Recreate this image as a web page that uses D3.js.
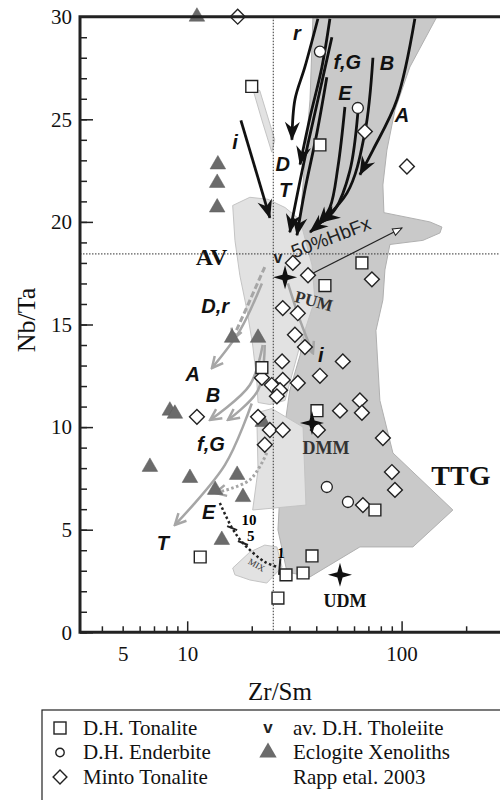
<!DOCTYPE html>
<html>
<head>
<meta charset="utf-8">
<script src="https://cdn.jsdelivr.net/npm/d3@7"></script>
<style>
body { margin: 0; background: #fff; }
svg text { font-family: "Liberation Serif", "Times New Roman", serif; }
svg text.lab { font-family: "Liberation Sans", Arial, sans-serif; font-weight: bold; font-style: italic; font-size: 20px; }
svg text.sans { font-family: "Liberation Sans", Arial, sans-serif; }
</style>
</head>
<body>
<div id="chart"></div>
<script>
// ---- data (Zr/Sm, Nb/Ta) ----
var tonalite = [[20.0,26.6],[41.6,23.75],[65.3,18.0],[43.9,16.9],[22.3,12.9],[40.3,10.8],[75.1,5.96],
    [38.2,3.72],[34.7,2.89],[28.9,2.8],[26.5,1.67],[11.5,3.67]];
var enderbite = [[41.6,28.3],[62.5,25.55],[44.8,7.08],[56.2,6.35]];
var minto = [[17.2,30],[67.4,24.4],[105.9,22.7],[31.1,18.0],[36.6,17.4],[72.7,17.2],[27.9,15.8],[32.8,15.55],
    [31.8,14.5],[35.4,13.9],[53.2,13.2],[41.6,12.5],[27.7,13.2],[22.3,12.4],[27.9,12.3],[24.8,12.05],
    [27.1,11.8],[26.2,11.5],[32.8,12.15],[63.9,11.3],[65.3,10.7],[51.6,10.8],[21.4,10.5],[24.3,9.86],
    [27.9,9.86],[40.7,9.86],[23.0,9.14],[81.8,9.47],[90.1,7.81],[93.1,6.94],[66.0,6.2],[11.1,10.5]];
var eclogite = [[11.1,30],[13.9,22.8],[13.8,21.9],[13.8,20.7],[8.3,10.8],[8.76,10.65],[6.7,8.06],[10.3,7.52],
    [17.1,7.67],[13.5,6.94],[18.2,6.59],[14.5,4.5],[16.2,14.35],[21.4,14.35],[22.5,10.25]];
var tholeiite = [[26.5,18.25]];
var reservoirs = [["PUM",28.6,17.3],["DMM",38.2,10.2],["UDM",51.6,2.8]];
var refX = 25.2, refY = 18.44;

var ttgField = [[38.6,30],[146.1,30],[109.3,27.55],[93.1,25.45],[85.4,23.5],[81.8,21.8],[82.7,20.45],
    [135.5,20.0],[154.2,19.75],[150.9,19.46],[125.7,19.1],[88.2,18.9],[83.6,17.66],[81.8,16.2],[75.9,14.7],
    [79.2,11.3],[91.1,8.74],[173.5,5.96],[112.9,4.16],[63.9,4.16],[37.4,2.7],[29.2,2.94],[26.5,4.99],
    [27.9,9.37],[30.1,11.8],[33.6,13.5],[35.4,14.7],[38.2,16.45],[35.4,18.6],[33.6,20.0],[35.4,23.0],[37.4,25.95]];
var avField = [[16.3,20.8],[19.6,21.2],[23.8,21.1],[28.6,20.7],[33.6,20.1],[38.2,17.9],[39.4,16.2],[33.6,14.0],
    [28.6,11.3],[24.3,11.1],[21.4,11.2],[21.1,12.3],[20.2,14.0],[19.0,15.7],[17.6,17.4],[16.7,19.1]];
var lowField = [[21.1,10.7],[24.8,10.9],[34.7,10.0],[35.8,6.2],[20.2,5.96],[21.4,7.91]];
var mixField = [[16.3,3.13],[19.6,3.91],[23.0,4.25],[26.2,4.16],[27.7,3.18],[23.5,2.4],[19.6,2.55],[16.7,2.8]];
var sliver = [[20.2,26.5],[21.8,26.4],[25.6,24.0],[24.8,23.4],[22.3,24.96]];

var blackArrows = [
    [[40.7,29.9],[35.4,27.55],[31.8,25.95],[30.8,24.0]],
    [[46.3,29.9],[42.5,27.55],[37.4,25.1],[33.6,22.8]],
    [[47.3,29.0],[40.7,25.95],[34.7,22.7],[30.1,19.5]],
    [[44.8,27.05],[40.3,24.35],[35.4,21.55],[32.5,19.35]],
    [[54.4,25.6],[50.5,22.7],[46.3,20.7],[40.7,19.85]],
    [[73.5,28.0],[67.4,24.35],[55.6,21.4],[37.4,19.5]],
    [[62.5,25.3],[57.4,22.5],[48.9,20.6],[42.5,20.0]],
    [[115.3,29.9],[95.1,25.95],[73.5,23.5],[63.9,22.3]],
    [[17.8,24.95],[24.3,20.2]]
];
var grayArrows = [
    [[22.3,17.0],[17.6,14.7],[13.04,12.88]],
    [[22.5,14.0],[19.6,12.05],[12.8,10.35]],
    [[23.0,14.0],[21.4,11.8],[15.5,10.35]],
    [[20.0,11.15],[15.0,8.16],[8.76,5.23]],
    [[29.5,17.0],[33.6,15.2],[38.6,13.6]]
];
var grayDashed = [[23.0,17.8],[19.2,15.96],[16.2,14.25]];
var grayDotted = [[23.5,8.74],[19.6,7.43],[13.5,6.79]];
var mixCurve = [[14.2,6.3],[16.2,5.08],[18.2,4.35],[23.0,3.43],[26.5,3.18]];
var mixTicks = [[16.2,5.08],[18.2,4.35]];
var hbfx = [[35.4,17.3],[100.3,19.7]];

var blackLabels = [["r",32.5,29.2],["f,G",55.8,27.8],["B",85.4,27.75],["E",54.4,26.3],["A",100.3,25.2],
    ["D",27.9,22.8],["T",28.6,21.55],["i",16.7,23.9]];
var grayLabels = [["D,r",13.5,15.9],["A",10.6,12.6],["B",13.2,11.55],["f,G",12.9,9.2],["E",12.6,5.86],
    ["T",7.7,4.37],["i",42.0,13.5]];
var mixLabels = [["10",19.4,5.5],["5",19.8,4.72],["1",27.4,3.87]];

var xMinor = [4,5,6,7,8,9,20,30,40,50,60,70,80,90,200];
var xMajor = [10,100];
var xLabels = [5,10,100];
var yMinor = d3.range(0, 31);
var yMajor = [0,5,10,15,20,25,30];

// ---- scales ----
var x = d3.scaleLog().domain([Math.sqrt(10), 100 * Math.sqrt(10)]).range([80, 508.8]);
var y = d3.scaleLinear().domain([0, 30]).range([632.3, 16.7]);

var svg = d3.select("#chart").append("svg").attr("width", 500).attr("height", 800);

var line = d3.line().x(d => x(d[0])).y(d => y(d[1])).curve(d3.curveCatmullRom);
var poly = d3.line().x(d => x(d[0])).y(d => y(d[1])).curve(d3.curveLinearClosed);

var defs = svg.append("defs");
defs.append("marker").attr("id", "headBlack").attr("viewBox", "-20 -9 22 18")
    .attr("refX", 0).attr("refY", 0).attr("markerWidth", 22).attr("markerHeight", 18)
    .attr("markerUnits", "userSpaceOnUse").attr("orient", "auto")
    .append("path").attr("d", "M1,0L-18,-7.5L-12,0L-18,7.5Z").attr("fill", "#111");
defs.append("marker").attr("id", "headGray").attr("viewBox", "-14 -8 16 16")
    .attr("refX", 0).attr("refY", 0).attr("markerWidth", 16).attr("markerHeight", 16)
    .attr("markerUnits", "userSpaceOnUse").attr("orient", "auto")
    .append("path").attr("d", "M-11,-5.5L0,0L-11,5.5").attr("fill", "none")
    .attr("stroke", "#a6a6a6").attr("stroke-width", 2.5);
defs.append("marker").attr("id", "headOpen").attr("viewBox", "-12 -6 14 12")
    .attr("refX", 0).attr("refY", 0).attr("markerWidth", 14).attr("markerHeight", 12)
    .attr("markerUnits", "userSpaceOnUse").attr("orient", "auto")
    .append("path").attr("d", "M0,0L-9,-3.5L-9,3.5Z").attr("fill", "#fff")
    .attr("stroke", "#222").attr("stroke-width", 1);

// ---- fields ----
svg.append("path").attr("d", poly(ttgField)).attr("fill", "#c9c9c9").attr("stroke", "#b0b0b0");
[avField, lowField, mixField, sliver].forEach(function(f) {
    svg.append("path").attr("d", poly(f)).attr("fill", "#e2e2e2").attr("stroke", "#c4c4c4");
});

// reference dotted lines
svg.append("line").attr("x1", x(refX)).attr("x2", x(refX)).attr("y1", y(30)).attr("y2", y(0))
    .attr("stroke", "#333").attr("stroke-dasharray", "1.5,1.5");
svg.append("line").attr("x1", 80).attr("x2", 500).attr("y1", y(refY)).attr("y2", y(refY))
    .attr("stroke", "#333").attr("stroke-dasharray", "1.5,1.5");

// ---- gray arrows ----
svg.append("g").selectAll("path").data(grayArrows).enter().append("path")
    .attr("d", line).attr("fill", "none").attr("stroke", "#a6a6a6").attr("stroke-width", 2.5)
    .attr("marker-end", "url(#headGray)");
svg.append("path").attr("d", line(grayDashed)).attr("fill", "none").attr("stroke", "#a6a6a6")
    .attr("stroke-width", 3).attr("stroke-dasharray", "6,3").attr("marker-end", "url(#headGray)");
svg.append("path").attr("d", line(grayDotted)).attr("fill", "none").attr("stroke", "#a6a6a6")
    .attr("stroke-width", 3).attr("stroke-dasharray", "2.5,2.5").attr("marker-end", "url(#headGray)");

// mixing curve
svg.append("path").attr("d", line(mixCurve)).attr("fill", "none").attr("stroke", "#222")
    .attr("stroke-width", 2.5).attr("stroke-dasharray", "2.5,2.5");
svg.append("g").selectAll("line").data(mixTicks).enter().append("line")
    .attr("x1", d => x(d[0]) - 5).attr("x2", d => x(d[0]) + 5)
    .attr("y1", d => y(d[1]) - 2).attr("y2", d => y(d[1]) + 2)
    .attr("stroke", "#222").attr("stroke-width", 2);
svg.append("line").attr("x1", x(27.2)).attr("x2", x(26.8)).attr("y1", y(3.6)).attr("y2", y(2.8))
    .attr("stroke", "#222").attr("stroke-width", 2);
svg.append("g").selectAll("text").data(mixLabels).enter().append("text")
    .attr("x", d => x(d[1])).attr("y", d => y(d[2])).attr("dy", "0.35em")
    .attr("text-anchor", "middle").attr("font-size", 15).attr("font-weight", "bold").text(d => d[0]);
svg.append("text").attr("transform", "translate(" + x(21.1) + "," + y(3.28) + ") rotate(30)")
    .attr("dy", "0.35em").attr("text-anchor", "middle").attr("font-size", 9).attr("fill", "#333")
    .text("MIX");

// ---- black arrows ----
svg.append("g").selectAll("path").data(blackArrows).enter().append("path")
    .attr("d", line).attr("fill", "none").attr("stroke", "#111").attr("stroke-width", 2.8)
    .attr("marker-end", "url(#headBlack)");

// 50%HbFx
svg.append("path").attr("d", line(hbfx)).attr("stroke", "#222").attr("stroke-width", 1.2)
    .attr("marker-end", "url(#headOpen)");
svg.append("text").attr("class", "sans")
    .attr("transform", "translate(" + x(48) + "," + y(18.95) + ") rotate(-21)")
    .attr("text-anchor", "middle").attr("font-size", 19).attr("fill", "#222").text("50%HbFx");

// ---- points ----
var sq = d3.symbol().type(d3.symbolSquare).size(140);
var dm = d3.symbol().type(d3.symbolSquare).size(110);
var tri = d3.symbol().type(d3.symbolTriangle).size(105);

svg.append("g").selectAll("path").data(eclogite).enter().append("path")
    .attr("d", tri).attr("transform", d => "translate(" + x(d[0]) + "," + y(d[1]) + ")")
    .attr("fill", "#6b6b6b").attr("stroke", "#5a5a5a").attr("stroke-width", 0.5);
svg.append("g").selectAll("path").data(minto).enter().append("path")
    .attr("d", dm).attr("transform", d => "translate(" + x(d[0]) + "," + y(d[1]) + ") rotate(45)")
    .attr("fill", "#fff").attr("stroke", "#222").attr("stroke-width", 1.4);
svg.append("g").selectAll("path").data(tonalite).enter().append("path")
    .attr("d", sq).attr("transform", d => "translate(" + x(d[0]) + "," + y(d[1]) + ")")
    .attr("fill", "#fff").attr("stroke", "#222").attr("stroke-width", 1.4);
svg.append("g").selectAll("circle").data(enderbite).enter().append("circle")
    .attr("cx", d => x(d[0])).attr("cy", d => y(d[1])).attr("r", 5.5)
    .attr("fill", "#fff").attr("stroke", "#222").attr("stroke-width", 1.3);
svg.append("g").selectAll("text").data(tholeiite).enter().append("text")
    .attr("class", "sans").attr("x", d => x(d[0])).attr("y", d => y(d[1])).attr("dy", "0.35em")
    .attr("text-anchor", "middle").attr("font-weight", "bold")
    .attr("font-size", 16).attr("fill", "#222").text("v");

// reservoir stars
function star4(r, w) {
    return "M0," + (-r) + "L" + w + "," + (-w) + "L" + r + ",0L" + w + "," + w + "L0," + r +
        "L" + (-w) + "," + w + "L" + (-r) + ",0L" + (-w) + "," + (-w) + "Z";
}
svg.append("g").selectAll("path").data(reservoirs).enter().append("path")
    .attr("d", star4(12, 2.6)).attr("transform", d => "translate(" + x(d[1]) + "," + y(d[2]) + ")")
    .attr("fill", "#111");

// ---- labels ----
svg.append("g").selectAll("text").data(blackLabels.concat(grayLabels)).enter().append("text")
    .attr("class", "lab").attr("x", d => x(d[1])).attr("y", d => y(d[2])).attr("dy", "0.35em")
    .attr("text-anchor", "middle").attr("fill", "#111").text(d => d[0]);

function fieldLabel(t, xv, yv, size, rot, col) {
    svg.append("text").attr("transform", "translate(" + x(xv) + "," + y(yv) + ") rotate(" + rot + ")")
        .attr("dy", "0.35em").attr("text-anchor", "middle").attr("font-weight", "bold")
        .attr("font-size", size).attr("fill", col).text(t);
}
fieldLabel("AV", 13.0, 18.3, 24, 0, "#111");
fieldLabel("PUM", 39.0, 16.15, 17, 15, "#333");
fieldLabel("DMM", 44.4, 8.98, 18, 0, "#333");
fieldLabel("UDM", 54.4, 1.53, 18, 0, "#111");
fieldLabel("TTG", 189.1, 7.67, 28, 0, "#111");

// ---- axes ----
function styleAxis(g) {
    g.attr("font-family", "'Liberation Serif', 'Times New Roman', serif").attr("font-size", 21);
    g.selectAll(".tick line").attr("stroke", "#222").attr("stroke-width", 1.5);
    g.selectAll("text").attr("fill", "#111");
}
svg.append("g").attr("transform", "translate(0," + y(0) + ")")
    .call(d3.axisBottom(x).tickValues(xMinor).tickSize(-6).tickFormat(""))
    .call(styleAxis).call(g => g.select(".domain").remove());
svg.append("g").attr("transform", "translate(0," + y(0) + ")")
    .call(d3.axisBottom(x).tickValues(xMajor).tickSize(-11).tickFormat(""))
    .call(styleAxis).call(g => g.select(".domain").remove());
svg.append("g").attr("transform", "translate(0," + y(0) + ")")
    .call(d3.axisBottom(x).tickValues(xLabels).tickSize(0).tickPadding(14).tickFormat(d3.format("d")))
    .call(styleAxis).call(g => g.select(".domain").remove());

svg.append("g").attr("transform", "translate(80,0)")
    .call(d3.axisLeft(y).tickValues(yMinor).tickSize(-7).tickFormat(""))
    .call(styleAxis).call(g => g.select(".domain").remove());
svg.append("g").attr("transform", "translate(80,0)")
    .call(d3.axisLeft(y).tickValues(yMajor).tickSize(-13).tickPadding(8))
    .call(styleAxis).call(g => g.select(".domain").remove());

// frame
svg.append("path").attr("d", "M500," + y(30) + "H80V" + y(0) + "H500")
    .attr("fill", "none").attr("stroke", "#222").attr("stroke-width", 3);

svg.append("text").attr("x", 280).attr("y", 700).attr("text-anchor", "middle")
    .attr("font-size", 25).attr("fill", "#111").text("Zr/Sm");
svg.append("text").attr("transform", "translate(35,320) rotate(-90)").attr("text-anchor", "middle")
    .attr("font-size", 26).attr("fill", "#111").text("Nb/Ta");

// ---- legend ----
var legendItems = [
    {sym: "square", label: "D.H. Tonalite", col: 0, row: 0},
    {sym: "circle", label: "D.H. Enderbite", col: 0, row: 1},
    {sym: "diamond", label: "Minto Tonalite", col: 0, row: 2},
    {sym: "v", label: "av. D.H.  Tholeiite", col: 1, row: 0},
    {sym: "triangle", label: "Eclogite Xenoliths", col: 1, row: 1},
    {sym: "", label: "Rapp etal. 2003", col: 1, row: 2}
];
var legend = svg.append("g");
legend.append("rect").attr("x", 42).attr("y", 710).attr("width", 480).attr("height", 110)
    .attr("fill", "none").attr("stroke", "#222").attr("stroke-width", 1.2);
var li = legend.selectAll("g.item").data(legendItems).enter().append("g")
    .attr("transform", d => "translate(" + (d.col ? 268 : 60) + "," + (728 + d.row * 24.5) + ")");
li.append("text").attr("x", d => d.col ? 25 : 23).attr("dy", "0.33em").attr("font-size", 21).attr("fill", "#111")
    .text(d => d.label);
li.filter(d => d.sym == "square").append("rect").attr("x", -6).attr("y", -6).attr("width", 12)
    .attr("height", 12).attr("fill", "#fff").attr("stroke", "#222").attr("stroke-width", 1.4);
li.filter(d => d.sym == "circle").append("circle").attr("r", 4.2)
    .attr("fill", "#fff").attr("stroke", "#222").attr("stroke-width", 1.4);
li.filter(d => d.sym == "diamond").append("path").attr("d", d3.symbol().type(d3.symbolSquare).size(95))
    .attr("transform", "rotate(45)").attr("fill", "#fff").attr("stroke", "#222").attr("stroke-width", 1.4);
li.filter(d => d.sym == "triangle").append("path").attr("d", d3.symbol().type(d3.symbolTriangle).size(130))
    .attr("fill", "#6b6b6b");
li.filter(d => d.sym == "v").append("text").attr("class", "sans").attr("dy", "0.3em").attr("text-anchor", "middle")
    .attr("font-weight", "bold").attr("font-size", 17).attr("fill", "#222").text("v");
</script>
</body>
</html>
